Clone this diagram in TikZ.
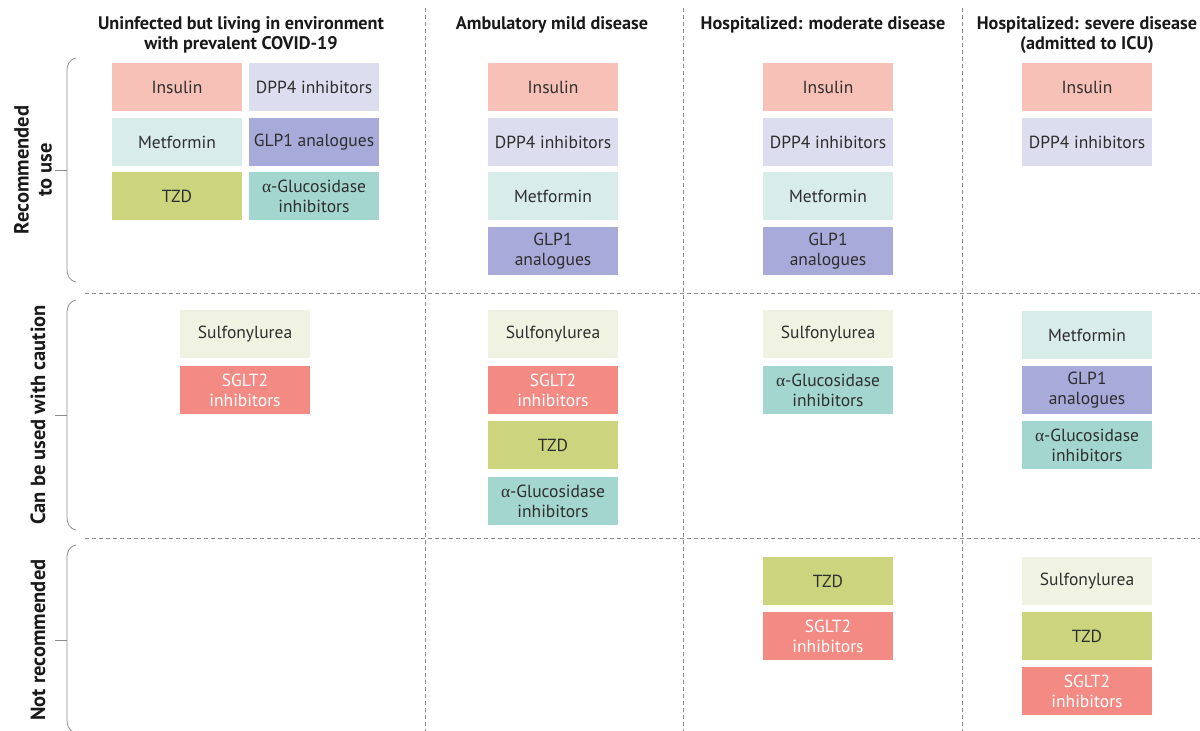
\documentclass[tikz,border=0pt]{standalone}
\usepackage{fontspec}
\setmainfont{PT Sans}
\newfontfamily\grk{Liberation Serif}
\definecolor{cIns}{HTML}{F7C1B8}
\definecolor{cDpp}{HTML}{DCDDEE}
\definecolor{cMet}{HTML}{D8ECE9}
\definecolor{cGlp}{HTML}{A8AAD9}
\definecolor{cTzd}{HTML}{CCD47D}
\definecolor{cAlg}{HTML}{A3D6CF}
\definecolor{cSul}{HTML}{F0F3E2}
\definecolor{cSgl}{HTML}{F38B84}
\definecolor{txt}{HTML}{2E2E2E}
\definecolor{linegray}{HTML}{8C8C8C}
\newcommand{\alg}{{\grk α}-Glucosidase\\inhibitors}
\begin{document}
\begin{tikzpicture}[x=1pt,y=-1pt,
  drug/.style={minimum width=130pt, minimum height=48pt, inner sep=0pt, align=center,
    text=txt, font=\fontsize{17.5}{20}\selectfont},
  ins/.style={drug, fill=cIns},
  dpp/.style={drug, fill=cDpp},
  met/.style={drug, fill=cMet},
  glp/.style={drug, fill=cGlp},
  tzd/.style={drug, fill=cTzd},
  algs/.style={drug, fill=cAlg},
  sul/.style={drug, fill=cSul},
  sgl/.style={drug, fill=cSgl, text=white},
  head/.style={align=center, text=black!90, font=\fontsize{18.2}{20.5}\selectfont\bfseries},
  rowlab/.style={align=center, rotate=90, text=black!90, font=\fontsize{20.5}{23}\selectfont\bfseries},
  sep/.style={draw=linegray, line width=0.8pt, dash pattern=on 4pt off 3pt},
  brace/.style={draw=linegray, line width=0.8pt}
]
\useasboundingbox (0,0) rectangle (1200,731);
\fill[white] (0,0) rectangle (1200,731);

% separators
\draw[sep] (425,8) -- (425,731);
\draw[sep] (683,8) -- (683,731);
\draw[sep] (962,8) -- (962,731);
\draw[sep] (85,293) -- (1200,293);
\draw[sep] (85,538) -- (1200,538);

% headers
\node[head] (h1) at (241,35) {Uninfected but living in environment\\with prevalent COVID-19};
\node[head] (h2) at (552,25) {Ambulatory mild disease};
\node[head] (h3) at (823,25) {Hospitalized: moderate disease};
\node[head] (h4) at (1087,35) {Hospitalized: severe disease\\(admitted to ICU)};

% row labels
\node[rowlab] (r1) at (33,170) {Recommended\\to use};
\node[rowlab] (r2) at (38,415) {Can be used with caution};
\node[rowlab] (r3) at (38,640) {Not recommended};

% braces
\draw[brace] (76,58) .. controls (69,60) and (67,64) .. (67,72) -- (67,268) .. controls (67,276) and (69,280) .. (76,282);
\draw[brace] (55,170) -- (67,170);
\draw[brace] (76,300) .. controls (69,302) and (67,306) .. (67,314) -- (67,516) .. controls (67,524) and (69,528) .. (76,530);
\draw[brace] (55,415) -- (67,415);
\draw[brace] (76,545) .. controls (69,547) and (67,551) .. (67,559) -- (67,720) .. controls (67,726) and (69,729) .. (72,731);
\draw[brace] (55,640) -- (67,640);

% column 1
\node[ins] (c1r1) at (177,87) {Insulin};
\node[dpp] (c1r2) at (314,87) {DPP4 inhibitors};
\node[met] (c1r3) at (177,142) {Metformin};
\node[glp] (c1r4) at (314,142) {GLP1 analogues};
\node[tzd] (c1r5) at (177,196) {TZD};
\node[algs] (c1r6) at (314,196) {\alg};
\node[sul] (c1c1) at (245,334) {Sulfonylurea};
\node[sgl] (c1c2) at (245,390) {SGLT2\\inhibitors};

% column 2
\node[ins] (c2r1) at (553,87) {Insulin};
\node[dpp] (c2r2) at (553,142) {DPP4 inhibitors};
\node[met] (c2r3) at (553,196) {Metformin};
\node[glp] (c2r4) at (553,251) {GLP1\\analogues};
\node[sul] (c2c1) at (553,334) {Sulfonylurea};
\node[sgl] (c2c2) at (553,390) {SGLT2\\inhibitors};
\node[tzd] (c2c3) at (553,445) {TZD};
\node[algs] (c2c4) at (553,501) {\alg};

% column 3
\node[ins] (c3r1) at (828,87) {Insulin};
\node[dpp] (c3r2) at (828,142) {DPP4 inhibitors};
\node[met] (c3r3) at (828,196) {Metformin};
\node[glp] (c3r4) at (828,251) {GLP1\\analogues};
\node[sul] (c3c1) at (828,334) {Sulfonylurea};
\node[algs] (c3c2) at (828,390) {\alg};
\node[tzd] (c3n1) at (828,581) {TZD};
\node[sgl] (c3n2) at (828,636) {SGLT2\\inhibitors};

% column 4
\node[ins] (c4r1) at (1087,87) {Insulin};
\node[dpp] (c4r2) at (1087,142) {DPP4 inhibitors};
\node[met] (c4c1) at (1087,335) {Metformin};
\node[glp] (c4c2) at (1087,390) {GLP1\\analogues};
\node[algs] (c4c3) at (1087,445) {\alg};
\node[sul] (c4n1) at (1087,581) {Sulfonylurea};
\node[tzd] (c4n2) at (1087,636) {TZD};
\node[sgl] (c4n3) at (1087,691) {SGLT2\\inhibitors};
\end{tikzpicture}
\end{document}
